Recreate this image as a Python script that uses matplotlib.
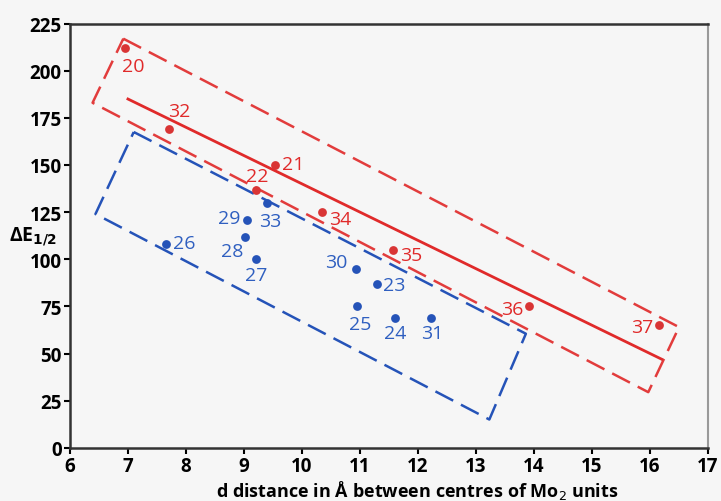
import matplotlib
matplotlib.use("Agg")
import matplotlib.pyplot as plt

# red group (compounds 20, 21, 22, 32, 34-37)
red_ids = ["20", "32", "22", "21", "34", "35", "36", "37"]
red_d = [6.95, 7.70, 9.20, 9.53, 10.35, 11.57, 13.92, 16.15]
red_dE = [212, 169, 137, 150, 125, 105, 75, 65]

# blue group
blue_ids = ["26", "29", "28", "33", "27", "30", "25", "23", "24", "31"]
blue_d = [7.65, 9.05, 9.02, 9.40, 9.21, 10.93, 10.95, 11.30, 11.60, 12.22]
blue_dE = [108, 121, 112, 130, 100, 95, 75, 87, 69, 69]

# trend line and the two dashed boxes (corner points)
red_fit_d = [7.0, 16.2]
red_fit_dE = [185, 47]
red_box_d = [6.92, 16.50, 15.97, 6.39, 6.92]
red_box_dE = [217, 64, 29.5, 183, 217]
blue_box_d = [7.10, 13.86, 13.23, 6.44, 7.10]
blue_box_dE = [167.5, 60.5, 15, 124, 167.5]

xticks = list(range(6, 18))
yticks = list(range(0, 226, 25))

RED = "#e02a2a"
BLUE = "#2553b8"

plt.rcParams["font.family"] = ["Open Sans", "DejaVu Sans"]

fig = plt.figure(figsize=(7.21, 5.02), dpi=100, facecolor="#f6f6f6")
ax = fig.add_axes([0.097, 0.106, 0.885, 0.845])
ax.set_facecolor("#f6f6f6")

ax.plot(red_box_d, red_box_dE, color="#e23c3c", lw=1.8, ls=(0, (8, 3.5)))
ax.plot(blue_box_d, blue_box_dE, color=BLUE, lw=1.8, ls=(0, (8, 3.5)))
ax.plot(red_fit_d, red_fit_dE, color=RED, lw=2)

ax.scatter(red_d, red_dE, s=40, color="#d93535", zorder=3, lw=0)
ax.scatter(blue_d, blue_dE, s=40, color=BLUE, zorder=3, lw=0)

# label offsets in points (dx, dy, ha)
offs = {
    "20": (6, -13, "center"), "32": (8, 13, "center"), "22": (1, 10, "center"),
    "21": (5, 1, "left"), "34": (5, -5, "left"), "35": (5, -4, "left"),
    "36": (-4, -2, "right"), "37": (-4, -1, "right"),
    "26": (5, 1, "left"), "29": (-5, 1, "right"), "28": (-1, -10, "right"),
    "33": (2, -13, "center"), "27": (0, -11, "center"), "30": (-6, 5, "right"),
    "25": (2, -13, "center"), "23": (4, -1, "left"), "24": (0, -11, "center"),
    "31": (1, -11, "center"),
}
for ids, xs, ys, c in [(red_ids, red_d, red_dE, RED), (blue_ids, blue_d, blue_dE, "#2f5fc0")]:
    for t, x, y in zip(ids, xs, ys):
        dx, dy, ha = offs[t]
        ax.annotate(t, (x, y), xytext=(dx, dy), textcoords="offset points",
                    ha=ha, va="center", fontsize=14, color=c)

ax.set_xlim(6, 17)
ax.set_ylim(0, 225)
ax.set_xticks(xticks)
ax.set_yticks(yticks)
ax.tick_params(labelsize=13.5, width=1.5, length=4, direction="out", pad=2)
for lab in ax.get_xticklabels() + ax.get_yticklabels():
    lab.set_fontweight("bold")

for s in ["left", "bottom", "top"]:
    ax.spines[s].set_color("#333333")
    ax.spines[s].set_linewidth(1.8)
ax.spines["right"].set_color("#999999")
ax.spines["right"].set_linewidth(1.5)

ax.set_xlabel("d distance in Å between centres of Mo$_2$ units",
              fontsize=13, fontweight="bold", va="bottom")
ax.xaxis.set_label_coords(0.545, -0.125)
ax.set_ylabel(r"ΔE$_{\mathbf{1/2}}$", fontsize=14, fontweight="bold", rotation=0,
              va="center")
ax.yaxis.set_label_coords(-0.058, 0.50)

fig.savefig("out.png", dpi=100, facecolor=fig.get_facecolor())
